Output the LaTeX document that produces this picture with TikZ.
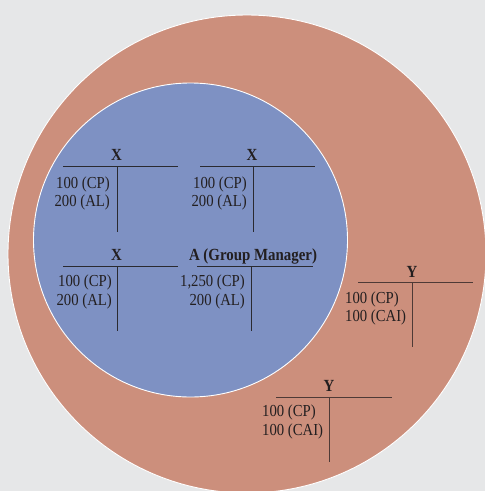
\documentclass[tikz,border=0pt]{standalone}
\usepackage{fontspec}
\setmainfont[FakeStretch=0.876]{Liberation Serif}
\definecolor{bgc}{HTML}{E6E7E8}
\definecolor{outerc}{HTML}{CC8F7C}
\definecolor{innerc}{HTML}{7E91C3}
\definecolor{txtc}{HTML}{231F20}
\definecolor{lineblue}{HTML}{2A2A30}
\definecolor{lineorange}{HTML}{4E3A36}
\begin{document}
\begin{tikzpicture}[x=1pt,y=-1pt,
  val/.style={font=\fontsize{16.8}{18.5}\selectfont, inner sep=0pt, text=txtc},
  ttl/.style={font=\fontsize{17}{18.5}\selectfont\bfseries, inner sep=0pt, text=txtc, anchor=base},
  tlineb/.style={draw=lineblue, line width=1pt},
  tlineo/.style={draw=lineorange, line width=1pt},
  ring/.style={draw=white, line width=0.9pt}]
\useasboundingbox (0,0) rectangle (485,491);
\fill[bgc] (0,0) rectangle (485,491);
\begin{scope}
  \clip (0,0) rectangle (485,491);
  \fill[outerc] (247,254) circle[radius=239pt];
  \draw[ring] (247,254) circle[radius=239pt];
\end{scope}
\fill[innerc] (190.5,240) circle[radius=157pt];
\draw[ring] (190.5,240) circle[radius=157pt];

% T-account 1 (top left X)
\node[ttl] (t1) at (116.5,160.7) {X};
\coordinate (t1l) at (63,166.5); \coordinate (t1r) at (178,166.5);
\coordinate (t1t) at (117,166.5); \coordinate (t1b) at (117,232);
\draw[tlineb] (t1l) -- (t1r); \draw[tlineb] (t1t) -- (t1b);
\node[val, anchor=base east] (t1a) at (110,188) {100 (CP)};
\node[val, anchor=base east] (t1c) at (110,206.5) {200 (AL)};

% T-account 2 (top right X)
\node[ttl] (t2) at (252,160.7) {X};
\coordinate (t2l) at (200,166.5); \coordinate (t2r) at (315,166.5);
\coordinate (t2t) at (253,166.5); \coordinate (t2b) at (253,232);
\draw[tlineb] (t2l) -- (t2r); \draw[tlineb] (t2t) -- (t2b);
\node[val, anchor=base east] (t2a) at (247,188) {100 (CP)};
\node[val, anchor=base east] (t2c) at (247,206.5) {200 (AL)};

% T-account 3 (bottom left X)
\node[ttl] (t3) at (116.5,260.5) {X};
\coordinate (t3l) at (63,266); \coordinate (t3r) at (178,266);
\coordinate (t3t) at (117,266); \coordinate (t3b) at (117,331);
\draw[tlineb] (t3l) -- (t3r); \draw[tlineb] (t3t) -- (t3b);
\node[val, anchor=base east] (t3a) at (112,286.7) {100 (CP)};
\node[val, anchor=base east] (t3c) at (112,305.7) {200 (AL)};

% T-account 4 (A Group Manager)
\node[ttl] (t4) at (253,260.5) {A (Group Manager)};
\coordinate (t4l) at (197,266); \coordinate (t4r) at (313,266);
\coordinate (t4t) at (251,266); \coordinate (t4b) at (251,331);
\draw[tlineb] (t4l) -- (t4r); \draw[tlineb] (t4t) -- (t4b);
\node[val, anchor=base east] (t4a) at (245,286.7) {1,250 (CP)};
\node[val, anchor=base east] (t4c) at (245,305.7) {200 (AL)};

% T-account 5 (Y right)
\node[ttl] (t5) at (412,277) {Y};
\coordinate (t5l) at (358,282); \coordinate (t5r) at (473,282);
\coordinate (t5t) at (412,282); \coordinate (t5b) at (412,347);
\draw[tlineo] (t5l) -- (t5r); \draw[tlineo] (t5t) -- (t5b);
\node[val, anchor=base west] (t5a) at (345,303.3) {100 (CP)};
\node[val, anchor=base west] (t5c) at (345,321) {100 (CAI)};

% T-account 6 (Y bottom)
\node[ttl] (t6) at (329,391.7) {Y};
\coordinate (t6l) at (276,397); \coordinate (t6r) at (392,397);
\coordinate (t6t) at (329,397); \coordinate (t6b) at (329,462);
\draw[tlineo] (t6l) -- (t6r); \draw[tlineo] (t6t) -- (t6b);
\node[val, anchor=base west] (t6a) at (262,416.7) {100 (CP)};
\node[val, anchor=base west] (t6c) at (262,435) {100 (CAI)};
\end{tikzpicture}
\end{document}
